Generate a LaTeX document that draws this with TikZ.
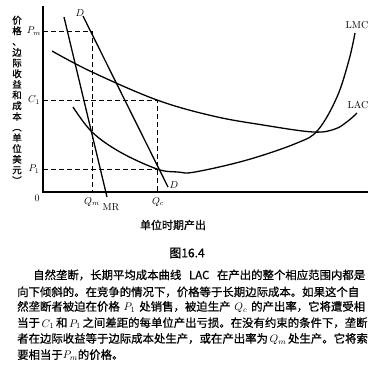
\documentclass[tikz,border=0pt]{standalone}
\usepackage{fontspec}
\newfontfamily\cjk[FakeBold=0.7]{Noto Sans CJK SC}
\XeTeXlinebreaklocale "zh"
\XeTeXlinebreakskip=0pt plus 3pt minus 1pt
\begin{document}
\begin{tikzpicture}[x=1pt,y=-1pt,
  axisline/.style={line width=1.4pt},
  curveline/.style={line width=1.3pt},
  guide/.style={line width=0.8pt,dash pattern=on 5pt off 3pt},
  lbl/.style={inner sep=0pt,font=\fontsize{10}{12}\selectfont},
  para/.style={anchor=west,inner sep=0pt,font=\cjk\fontsize{11.4}{14}\selectfont}]
\useasboundingbox (0,0) rectangle (373,370);
% axes
\coordinate (O) at (43,192);
\coordinate (ytop) at (43,6);
\coordinate (xend) at (368,192);
\draw[axisline] (ytop) -- (O) -- (xend);
% guide points
\coordinate (pm) at (43,31);
\coordinate (c1) at (43,100);
\coordinate (p1) at (43,169);
\coordinate (qm) at (92,192);
\coordinate (qc) at (157,192);
\coordinate (pmq) at (92,31);
\coordinate (c1q) at (157,100);
\coordinate (p1q) at (159,169);
\draw[guide] (pm) -- (pmq) -- (qm);
\draw[guide] (c1) -- (c1q) -- (qc);
\draw[guide] (p1) -- (p1q);
% demand and MR
\coordinate (dtop) at (83,16);
\coordinate (dbot) at (168,187);
\draw[curveline] (dtop) -- (dbot);
\coordinate (mrtop) at (64,17);
\coordinate (mrbot) at (107,197);
\draw[curveline] (mrtop) -- (mrbot);
% LAC
\draw[curveline] plot[smooth,tension=0.6] coordinates {(52,51) (92,72) (157,100) (213,116) (263,125) (313,132) (335,129) (348,121) (357,113)};
% LMC
\draw[curveline] plot[smooth,tension=0.6] coordinates {(73,107) (92,132) (120,152) (157,169) (178,172) (195,172) (247,160) (297,143) (318,130) (337,97) (349,60) (355,33)};
% labels
\node[lbl] (lD1) at (80,13) {$D$};
\node[lbl] (lD2) at (174,185) {$D$};
\node[lbl] (lMR) at (111,207) {MR};
\node[lbl] (lLMC) at (357,25) {LMC};
\node[lbl] (lLAC) at (358,105) {LAC};
\node[lbl] (lPm) at (34,31) {$P_m$};
\node[lbl] (lC1) at (34,100) {$C_1$};
\node[lbl] (lP1) at (34,169) {$P_1$};
\node[lbl] (l0) at (37,198) {0};
\node[lbl] (lQm) at (92,202) {$Q_m$};
\node[lbl] (lQc) at (158,202) {$Q_c$};
% y label
\node[inner sep=0pt,align=center,font=\cjk\fontsize{9.5}{10.7}\selectfont] (ylab) at (17,100)
 {价\\格\\、\\边\\际\\收\\益\\和\\成\\本\\︵\\单\\位\\美\\元\\︶};
\node[inner sep=0pt,font=\cjk\fontsize{11}{13}\selectfont] (xlab) at (173,225) {单位时期产出};
\node[inner sep=0pt,font=\cjk\fontsize{12}{14}\selectfont] (fig) at (187,253) {图16.4};
% paragraph
\node[para] (t1) at (33,275) {\makebox[332pt][s]{自然垄断，长期平均成本曲线 LAC 在产出的整个相应范围内都是}};
\node[para] (t2) at (17,292) {\makebox[348pt][s]{向下倾斜的。在竞争的情况下，价格等于长期边际成本。如果这个自}};
\node[para] (t3) at (17,307) {\makebox[348pt][s]{然垄断者被迫在价格 $P_1$ 处销售，被迫生产 $Q_c$ 的产出率，它将遭受相}};
\node[para] (t4) at (17,323) {\makebox[348pt][s]{当于 $C_1$ 和 $P_1$ 之间差距的每单位产出亏损。在没有约束的条件下，垄断}};
\node[para] (t5) at (17,339) {\makebox[348pt][s]{者在边际收益等于边际成本处生产，或在产出率为 $Q_m$ 处生产。它将索}};
\node[para] (t6) at (17,355) {要相当于$P_m$的价格。};
\end{tikzpicture}
\end{document}
